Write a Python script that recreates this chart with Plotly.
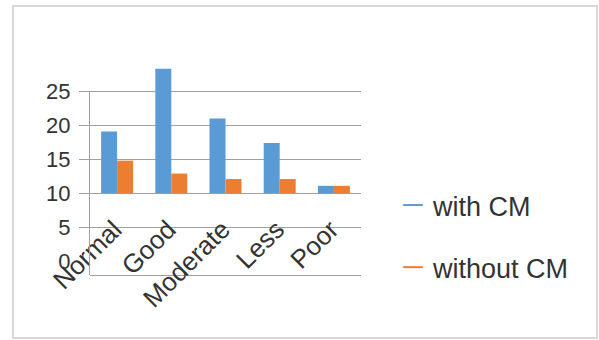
import plotly.graph_objects as go

# ---- data ----
categories = ["Normal", "Good", "Moderate", "Less", "Poor"]
with_cm = [19.1, 28.3, 21.0, 17.4, 11.1]
without_cm = [14.8, 12.9, 12.1, 12.1, 11.1]
series_names = ["with CM", "without CM"]
y_tick_vals = [0, 5, 10, 15, 20, 25]
grid_vals = [5, 10, 15, 20, 25]

# ---- style ----
BAR_BASE = 10
BLUE = "#5B9BD5"
ORANGE = "#ED7D31"
GRID = "#a0a0a0"
TEXT = "#333333"
FONT = "Liberation Sans"

W, H = 599, 340
L, R, T, B = 90, 238, 64, 65
Y_MIN, Y_TOP, AXIS_TOP = -2, 29, 25.05

fig = go.Figure()
fig.add_trace(go.Bar(x=categories, y=[v - BAR_BASE for v in with_cm], base=BAR_BASE,
                     marker=dict(color=BLUE, line=dict(width=0)), showlegend=False,
                     name=series_names[0]))
fig.add_trace(go.Bar(x=categories, y=[v - BAR_BASE for v in without_cm], base=BAR_BASE,
                     marker=dict(color=ORANGE, line=dict(width=0)), showlegend=False,
                     name=series_names[1]))
# invisible helper trace so the labelled axis (shorter domain) exists
fig.add_trace(go.Scatter(x=categories, y=without_cm, yaxis="y2", mode="markers",
                         marker=dict(opacity=0), showlegend=False, hoverinfo="skip"))
# legend proxies (short line symbols)
for name, col in zip(series_names, [BLUE, ORANGE]):
    fig.add_trace(go.Scatter(x=[None], y=[None], mode="markers", name=name,
                             legendgroup=name,
                             marker=dict(symbol="line-ew", size=14,
                                         line=dict(color=col, width=2))))

pw = W - L - R
ph = H - T - B

def px_x(p):
    return (p - L) / pw

def px_y(p):
    return (H - B - p) / ph

fig.update_layout(
    template="none",
    width=W, height=H,
    margin=dict(l=L, r=R, t=T, b=B, pad=0),
    paper_bgcolor="white", plot_bgcolor="rgba(0,0,0,0)",
    barmode="group", bargap=0.41, bargroupgap=0,
    font=dict(family=FONT, color=TEXT),
    xaxis=dict(type="category", showline=True, linecolor=GRID, linewidth=1,
               showgrid=False, ticks="", tickangle=-45,
               tickfont=dict(size=26, color=TEXT), automargin=False,
               ticklabelstandoff=-72, ticklabelshift=-3, zeroline=False),
    yaxis=dict(range=[Y_MIN, Y_TOP], tickvals=grid_vals, showticklabels=False,
               showgrid=True, gridcolor=GRID, gridwidth=1,
               ticks="outside", ticklen=10, tickcolor=GRID,
               showline=False, zeroline=False, automargin=False),
    yaxis2=dict(range=[Y_MIN, AXIS_TOP], anchor="x", side="left",
                domain=[0, (AXIS_TOP - Y_MIN) / (Y_TOP - Y_MIN)],
                tickvals=y_tick_vals, showgrid=False, ticks="",
                showline=True, linecolor=GRID, linewidth=1, zeroline=False,
                tickfont=dict(size=22, color=TEXT), ticklabelstandoff=14,
                automargin=False),
    legend=dict(x=px_x(393), y=px_y(181), xanchor="left", yanchor="top",
                font=dict(size=27, color=TEXT), tracegroupgap=24,
                bgcolor="rgba(0,0,0,0)", borderwidth=0),
    shapes=[dict(type="rect", xref="paper", yref="paper",
                 x0=px_x(13), x1=px_x(597), y0=px_y(338), y1=px_y(6),
                 line=dict(color="#d9d9d9", width=2), fillcolor="rgba(0,0,0,0)",
                 layer="below")],
    hovermode=False,
)

fig.write_html("out.html")
